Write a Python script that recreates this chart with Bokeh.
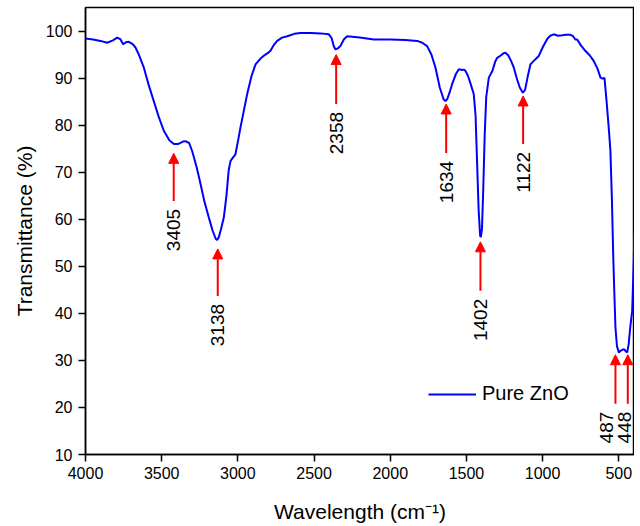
import math
from bokeh.plotting import figure
from bokeh.models import (ColumnDataSource, Range1d, FixedTicker, Arrow, NormalHead)
from bokeh.core.properties import value
from bokeh.embed import file_html
from bokeh.resources import INLINE

FONT = "Liberation Sans"

# Spectrum (wavenumber cm-1, transmittance %)
wavenumber = [4000, 3950, 3902, 3858, 3820, 3792, 3770, 3753, 3735, 3716, 3690, 3672, 3650,
              3617, 3585, 3552, 3520, 3486, 3450, 3420, 3390, 3360, 3344, 3320, 3300, 3270,
              3245, 3220, 3191, 3165, 3145, 3136, 3125, 3110, 3092, 3075, 3060, 3048, 3030,
              3016, 3000, 2983, 2960, 2939, 2910, 2884, 2850, 2819, 2800, 2786, 2765, 2742,
              2710, 2676, 2630, 2589, 2520, 2458, 2403, 2385, 2370, 2359, 2345, 2327, 2305,
              2283, 2200, 2108, 2000, 1900, 1823, 1790, 1758, 1730, 1703, 1675, 1650, 1638,
              1625, 1610, 1594, 1570, 1550, 1530, 1515, 1506, 1490, 1470, 1452, 1440, 1430,
              1420, 1410, 1405, 1398, 1390, 1380, 1370, 1353, 1330, 1310, 1298, 1275, 1255,
              1244, 1225, 1205, 1189, 1170, 1150, 1130, 1115, 1100, 1080, 1060, 1040, 1025,
              1000, 970, 950, 927, 900, 870, 850, 817, 800, 785, 773, 750, 720, 690, 664,
              640, 620, 607, 594, 580, 565, 555, 545, 537, 530, 522, 512, 500, 490, 480,
              467, 455, 445, 435, 425, 412, 405, 402, 398]
transmittance = [98.4, 98.2, 97.9, 97.5, 98.0, 98.6, 98.2, 97.2, 97.6, 97.7, 97.2, 96.5, 95.0,
                 92.2, 88.5, 85.1, 81.8, 78.8, 76.8, 76.0, 76.0, 76.5, 76.6, 76.2, 74.5, 71.0,
                 67.5, 63.8, 60.4, 57.5, 55.8, 55.6, 56.2, 58.0, 60.4, 65.0, 70.5, 72.4, 73.2,
                 73.8, 76.5, 79.5, 83.2, 86.6, 90.5, 92.9, 94.2, 95.0, 95.4, 95.8, 97.0, 97.9,
                 98.6, 98.9, 99.4, 99.6, 99.6, 99.5, 99.3, 98.5, 96.7, 96.1, 96.3, 96.8, 98.2,
                 98.9, 98.6, 98.2, 98.2, 98.1, 97.9, 97.5, 96.8, 95.0, 92.2, 88.0, 85.5, 85.1,
                 85.6, 87.0, 88.7, 90.8, 91.9, 91.7, 91.8, 91.5, 90.5, 88.5, 86.6, 82.0, 72.0,
                 62.0, 56.5, 56.2, 58.0, 66.0, 78.0, 86.0, 90.1, 91.5, 93.6, 94.3, 94.8, 95.3,
                 95.4, 94.8, 93.5, 92.2, 90.0, 88.0, 86.9, 87.5, 90.0, 92.9, 93.6, 94.2, 94.7,
                 96.5, 98.3, 99.0, 99.3, 99.0, 99.1, 99.2, 99.2, 98.9, 98.2, 98.2, 97.0, 95.8,
                 94.8, 93.6, 92.0, 90.1, 89.9, 90.0, 85.0, 79.0, 74.5, 64.0, 52.7, 45.0, 37.0,
                 33.0, 31.7, 32.0, 32.2, 32.4, 32.0, 31.7, 33.5, 37.0, 40.6, 48.0, 51.2, 57.0]

# Peak annotations
peak_labels = ["3405", "3138", "2358", "1634", "1402", "1122", "487", "448"]
arrow_x = [3421, 3132, 2355, 1633, 1408, 1128, 522, 441]
label_x = [3421, 3132, 2355, 1633, 1408, 1128, 583, 464]
arrow_head_y = [74.0, 53.7, 95.0, 84.5, 55.2, 86.2, 31.2, 31.2]
arrow_tail_y = [63.9, 43.7, 84.5, 74.1, 44.8, 76.0, 20.8, 20.8]

x_ticks = [4000, 3500, 3000, 2500, 2000, 1500, 1000, 500]
y_ticks = [10, 20, 30, 40, 50, 60, 70, 80, 90, 100]

p = figure(width=634, height=526, output_backend="svg", toolbar_location=None,
           x_range=Range1d(4000, 397), y_range=Range1d(10, 105),
           min_border_left=85, min_border_right=0, min_border_top=7, min_border_bottom=72)
p.background_fill_color = "white"
p.border_fill_color = "white"
p.outline_line_color = "black"
p.outline_line_width = 1.5
p.grid.visible = False

p.line(wavenumber, transmittance, line_color="#0000ff", line_width=2, legend_label="Pure ZnO")

src = ColumnDataSource(dict(x=arrow_x, lx=label_x, head=arrow_head_y, tail=arrow_tail_y,
                            label=peak_labels))
p.add_layout(Arrow(end=NormalHead(size=10, fill_color="red", line_color="red", line_width=1),
                   x_start="x", y_start="tail", x_end="x", y_end="head",
                   line_color="red", line_width=2, source=src))
p.text(x="lx", y="tail", text="label", source=src, angle=math.pi / 2,
       text_align="right", text_baseline="middle", y_offset=8,
       text_font=value(FONT), text_font_size="19px", text_color="black")

for ax in (p.xaxis[0], p.yaxis[0]):
    ax.axis_line_color = "black"
    ax.axis_line_width = 1.5
    ax.major_tick_line_color = "black"
    ax.major_tick_line_width = 1.5
    ax.major_tick_in = 0
    ax.major_tick_out = 7
    ax.minor_tick_line_color = None
    ax.major_label_text_font = FONT
    ax.major_label_text_font_size = "16px"
    ax.major_label_text_color = "black"
    ax.axis_label_text_font = FONT
    ax.axis_label_text_font_size = "21px"
    ax.axis_label_text_font_style = "normal"
    ax.axis_label_text_color = "black"

p.xaxis.ticker = FixedTicker(ticks=x_ticks)
p.yaxis.ticker = FixedTicker(ticks=y_ticks)
p.xaxis.axis_label = "Wavelength (cm\u207b\u00b9)"
p.yaxis.axis_label = "Transmittance (%)"
p.xaxis.major_label_standoff = 5
p.yaxis.major_label_standoff = 6
p.xaxis.axis_label_standoff = 18
p.yaxis.axis_label_standoff = 7

lg = p.legend[0]
lg.location = (343, 49)
lg.padding = 0
lg.margin = 0
lg.border_line_alpha = 0
lg.background_fill_alpha = 0
lg.glyph_width = 48
lg.label_standoff = 6
lg.label_text_font = FONT
lg.label_text_font_size = "20px"
lg.label_text_color = "black"

open("out.html", "w").write(file_html(p, INLINE))
